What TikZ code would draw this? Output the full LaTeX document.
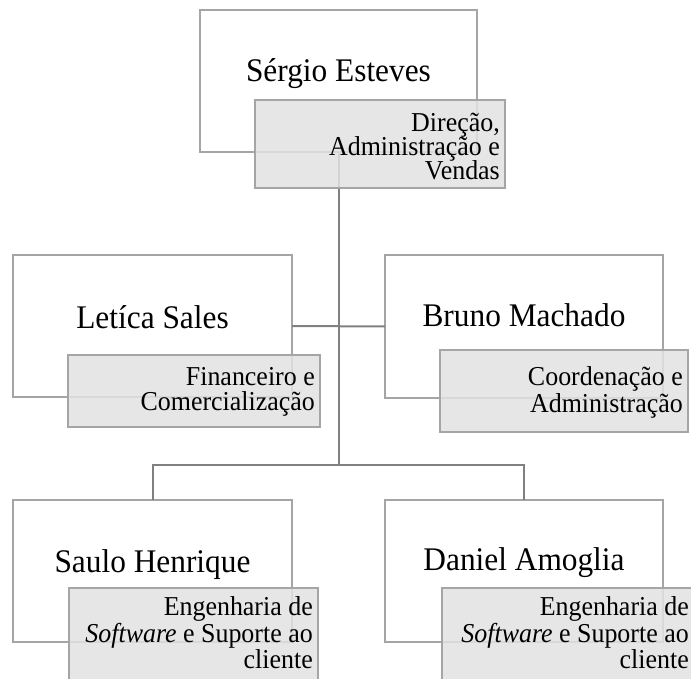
\documentclass[tikz,border=0pt]{standalone}
\usepackage{fontspec}
\setmainfont{Liberation Serif}[FakeStretch=0.95]
\usetikzlibrary{calc}
\definecolor{boxgray}{HTML}{A5A5A5}
\definecolor{rolefill}{HTML}{E2E2E2}
\definecolor{linkgray}{HTML}{808080}
\tikzset{
  outerbox/.style={draw=boxgray, line width=1.8pt, inner sep=0pt, outer sep=0pt, anchor=north west},
  rolebox/.style={draw=boxgray, fill=rolefill, fill opacity=0.85, line width=1.8pt, inner sep=0pt, outer sep=0pt, anchor=north west},
  nametext/.style={anchor=base, font=\fontsize{33}{36}\selectfont, inner sep=0pt},
  roletext/.style={anchor=base east, font=\fontsize{27.3}{27}\selectfont, inner sep=0pt},
  link/.style={draw=linkgray, line width=2pt}
}
\begin{document}
\begin{tikzpicture}[x=1pt,y=-1pt]
\useasboundingbox (0,0) rectangle (691,679);
% outer boxes
\node[outerbox, minimum width=277pt, minimum height=142pt] (s) at (200,10) {};
\node[outerbox, minimum width=279pt, minimum height=142pt] (l) at (13,255) {};
\node[outerbox, minimum width=278pt, minimum height=143pt] (b) at (385,255) {};
\node[outerbox, minimum width=279pt, minimum height=142pt] (h) at (13,500) {};
\node[outerbox, minimum width=278pt, minimum height=142pt] (d) at (385,500) {};
% connectors
\coordinate (j2) at ($(s.south)+(0,313)$);
\draw[link] (s.south) -- (j2);
\draw[link] (l.east) -- (b.west);
\draw[link] (h.north) |- (j2) -| (d.north);
% role boxes
\node[rolebox, minimum width=250pt, minimum height=88pt] (sr) at (255,100) {};
\node[rolebox, minimum width=252pt, minimum height=72pt] (lr) at (68,355) {};
\node[rolebox, minimum width=248pt, minimum height=82pt] (br) at (440,350) {};
\node[rolebox, minimum width=249pt, minimum height=110pt] (hr) at (69,588) {};
\node[rolebox, minimum width=252pt, minimum height=110pt] (dr) at (442,588) {};
% names
\node[nametext] (sn) at ($(s.north)+(0,72)$) {Sérgio Esteves};
\node[nametext] (ln) at ($(l.north)+(0,73)$) {Letíca Sales};
\node[nametext] (bn) at ($(b.north)+(0,71)$) {Bruno Machado};
\node[nametext] (hn) at ($(h.north)+(0,72)$) {Saulo Henrique};
\node[nametext] (dn) at ($(d.north)+(0,70)$) {Daniel Amoglia};
% role texts
\node[roletext] (sr1) at ($(sr.north east)+(-5,32)$) {Direção,};
\node[roletext] (sr2) at ($(sr.north east)+(-5,56)$) {Administração e};
\node[roletext] (sr3) at ($(sr.north east)+(-5,80)$) {Vendas};
\node[roletext] (lr1) at ($(lr.north east)+(-5,30)$) {Financeiro e};
\node[roletext] (lr2) at ($(lr.north east)+(-5,55)$) {Comercialização};
\node[roletext] (br1) at ($(br.north east)+(-5,35)$) {Coordenação e};
\node[roletext] (br2) at ($(br.north east)+(-5,62)$) {Administração};
\node[roletext] (hr1) at ($(hr.north east)+(-5,27)$) {Engenharia de};
\node[roletext] (hr2) at ($(hr.north east)+(-5,54)$) {\textit{Software} e Suporte ao};
\node[roletext] (hr3) at ($(hr.north east)+(-5,80)$) {cliente};
\node[roletext] (dr1) at ($(dr.north east)+(-5,27)$) {Engenharia de};
\node[roletext] (dr2) at ($(dr.north east)+(-5,54)$) {\textit{Software} e Suporte ao};
\node[roletext] (dr3) at ($(dr.north east)+(-5,80)$) {cliente};
\end{tikzpicture}
\end{document}
